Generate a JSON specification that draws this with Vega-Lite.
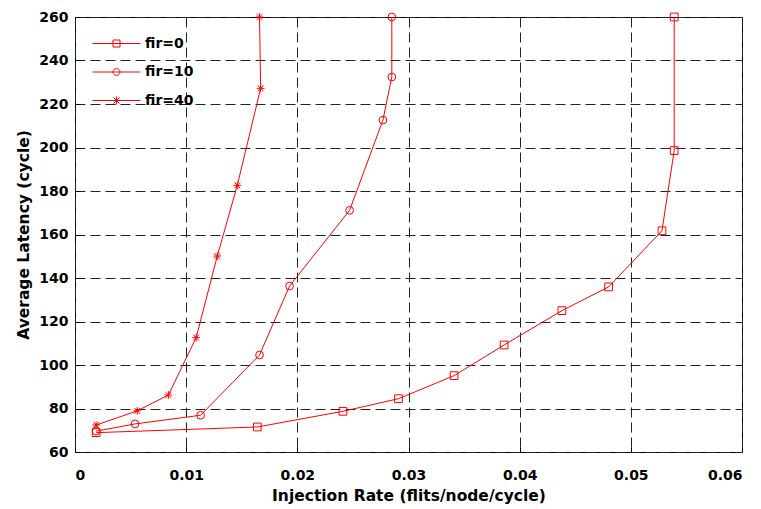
{
  "$schema": "https://vega.github.io/schema/vega-lite/v6.json",
  "autosize": "none",
  "padding": {"left": 75, "top": 17, "right": 19, "bottom": 57},
  "width": 667,
  "height": 435,
  "background": "white",
  "config": {
    "font": "DejaVu Sans",
    "view": {"stroke": "black", "strokeWidth": 1},
    "axis": {
      "labelFont": "DejaVu Sans",
      "labelFontWeight": "bold",
      "labelFontSize": 14,
      "labelColor": "black",
      "titleFont": "DejaVu Sans",
      "titleFontWeight": "bold",
      "titleFontSize": 15.5,
      "titleColor": "black",
      "ticks": true,
      "tickSize": -5,
      "tickColor": "black",
      "tickWidth": 1,
      "domain": false,
      "grid": true,
      "gridColor": "#222222",
      "gridDash": [10, 5],
      "gridWidth": 1,
      "gridOpacity": 1
    }
  },
  "data": {
    "values": [
      {"s": "fir=0", "i": 0, "x": 0.0019, "y": 68.9},
      {"s": "fir=0", "i": 1, "x": 0.0164, "y": 71.5},
      {"s": "fir=0", "i": 2, "x": 0.0241, "y": 78.7},
      {"s": "fir=0", "i": 3, "x": 0.0291, "y": 84.5},
      {"s": "fir=0", "i": 4, "x": 0.0341, "y": 95.1},
      {"s": "fir=0", "i": 5, "x": 0.0386, "y": 109.2},
      {"s": "fir=0", "i": 6, "x": 0.0438, "y": 125.0},
      {"s": "fir=0", "i": 7, "x": 0.0480, "y": 135.9},
      {"s": "fir=0", "i": 8, "x": 0.0528, "y": 161.7},
      {"s": "fir=0", "i": 9, "x": 0.0539, "y": 198.6},
      {"s": "fir=0", "i": 10, "x": 0.0539, "y": 260},
      {"s": "fir=10", "i": 0, "x": 0.0019, "y": 69.6},
      {"s": "fir=10", "i": 1, "x": 0.0054, "y": 72.9},
      {"s": "fir=10", "i": 2, "x": 0.0113, "y": 76.9},
      {"s": "fir=10", "i": 3, "x": 0.0166, "y": 104.6},
      {"s": "fir=10", "i": 4, "x": 0.0193, "y": 136.3},
      {"s": "fir=10", "i": 5, "x": 0.0247, "y": 171.1},
      {"s": "fir=10", "i": 6, "x": 0.0277, "y": 212.6},
      {"s": "fir=10", "i": 7, "x": 0.0285, "y": 232.4},
      {"s": "fir=10", "i": 8, "x": 0.0285, "y": 260},
      {"s": "fir=40", "i": 0, "x": 0.0019, "y": 72.4},
      {"s": "fir=40", "i": 1, "x": 0.0056, "y": 78.9},
      {"s": "fir=40", "i": 2, "x": 0.0084, "y": 86.2},
      {"s": "fir=40", "i": 3, "x": 0.0109, "y": 112.6},
      {"s": "fir=40", "i": 4, "x": 0.0128, "y": 150.1},
      {"s": "fir=40", "i": 5, "x": 0.0146, "y": 182.6},
      {"s": "fir=40", "i": 6, "x": 0.0167, "y": 227.2},
      {"s": "fir=40", "i": 7, "x": 0.0166, "y": 260}
    ]
  },
  "encoding": {
    "x": {
      "field": "x", "type": "quantitative",
      "scale": {"domain": [0, 0.06], "nice": false, "zero": false},
      "axis": {"values": [0, 0.01, 0.02, 0.03, 0.04, 0.05, 0.06], "format": "~g", "labelPadding": 21, "titlePadding": 6, "title": "Injection Rate (flits/node/cycle)"}
    },
    "y": {
      "field": "y", "type": "quantitative",
      "scale": {"domain": [60, 260], "nice": false, "zero": false},
      "axis": {"values": [60, 80, 100, 120, 140, 160, 180, 200, 220, 240, 260], "labelPadding": 12, "titlePadding": 7, "title": "Average Latency (cycle)"}
    }
  },
  "layer": [
    {
      "mark": {"type": "line", "color": "#ff0000", "strokeWidth": 1, "clip": true},
      "encoding": {
        "detail": {"field": "s", "type": "nominal"},
        "order": {"field": "i", "type": "quantitative"}
      }
    },
    {
      "mark": {"type": "point", "filled": false, "color": "#ff0000", "strokeWidth": 1, "size": 60, "opacity": 1},
      "encoding": {
        "shape": {
          "field": "s", "type": "nominal",
          "scale": {"domain": ["fir=0", "fir=10", "fir=40"], "range": ["square", "circle", "M-1,0H1M0,-1V1M-0.75,-0.75L0.75,0.75M-0.75,0.75L0.75,-0.75"]},
          "legend": null
        }
      }
    },
    {
      "mark": {"type": "point", "filled": false, "color": "#ff0000", "strokeWidth": 1, "size": 0},
      "encoding": {
        "shape": {
          "field": "s", "type": "nominal",
          "scale": {"domain": ["fir=0", "fir=10", "fir=40"], "range": [
            "M-2.4,0H2.4M-0.35,-0.35H0.35V0.35H-0.35Z",
            "M-2.4,0H2.4M0.35,0A0.35,0.35,0,1,1,-0.35,0A0.35,0.35,0,1,1,0.35,0",
            "M-2.4,0H2.4M0,-0.4V0.4M-0.3,-0.3L0.3,0.3M-0.3,0.3L0.3,-0.3"
          ]},
          "legend": {
            "title": null,
            "orient": "none",
            "legendX": 31,
            "legendY": 16,
            "padding": 0,
            "symbolSize": 400,
            "symbolStrokeWidth": 1,
            "symbolStrokeColor": "#ff0000",
            "symbolFillColor": "transparent",
            "symbolOpacity": 1,
            "labelOffset": 18,
            "rowPadding": 10.5,
            "labelFont": "DejaVu Sans",
            "labelFontWeight": "bold",
            "labelFontSize": 14,
            "labelColor": "black"
          }
        }
      }
    }
  ],
  "resolve": {"scale": {"shape": "independent"}}
}
